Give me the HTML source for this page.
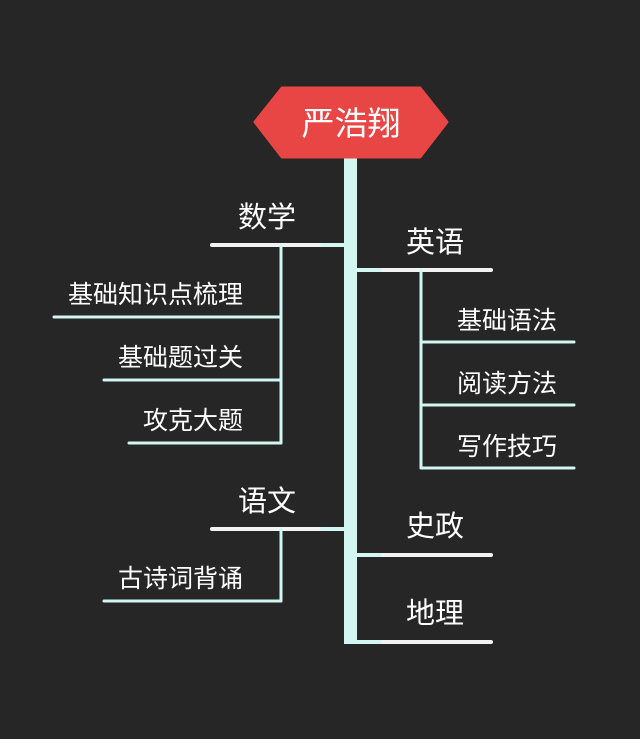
<!DOCTYPE html>
<html><head><meta charset="utf-8"><style>
html,body{margin:0;padding:0;background:#262626;}
svg{display:block}
text{font-family:"Liberation Sans","Noto Sans CJK SC",sans-serif;fill:#fff;}
</style></head><body>
<svg width="640" height="739" viewBox="0 0 640 739" xmlns="http://www.w3.org/2000/svg">
<rect width="640" height="739" fill="#262626"/>
<g stroke-linecap="round">
<rect x="344" y="156" width="13" height="488" fill="#d2f7f2"/>
<line x1="212" y1="245" x2="345" y2="245" stroke="#f2f2f2" stroke-width="4"/>
<line x1="322" y1="245" x2="345" y2="245" stroke="#d2f7f2" stroke-width="4"/>
<line x1="281" y1="245" x2="281" y2="443" stroke="#d2f7f2" stroke-width="3"/>
<line x1="54" y1="317" x2="281" y2="317" stroke="#d2f7f2" stroke-width="3"/>
<line x1="104" y1="380" x2="281" y2="380" stroke="#d2f7f2" stroke-width="3"/>
<line x1="129" y1="443" x2="281" y2="443" stroke="#d2f7f2" stroke-width="3"/>
<line x1="212" y1="529" x2="345" y2="529" stroke="#f2f2f2" stroke-width="4"/>
<line x1="322" y1="529" x2="345" y2="529" stroke="#d2f7f2" stroke-width="4"/>
<line x1="281" y1="529" x2="281" y2="601" stroke="#d2f7f2" stroke-width="3"/>
<line x1="104" y1="601" x2="281" y2="601" stroke="#d2f7f2" stroke-width="3"/>
<line x1="356" y1="270" x2="491" y2="270" stroke="#f2f2f2" stroke-width="4"/>
<line x1="356" y1="270" x2="380" y2="270" stroke="#d2f7f2" stroke-width="4"/>
<line x1="421" y1="270" x2="421" y2="468" stroke="#d2f7f2" stroke-width="3"/>
<line x1="421" y1="342" x2="574" y2="342" stroke="#d2f7f2" stroke-width="3"/>
<line x1="421" y1="405" x2="574" y2="405" stroke="#d2f7f2" stroke-width="3"/>
<line x1="421" y1="468" x2="574" y2="468" stroke="#d2f7f2" stroke-width="3"/>
<line x1="356" y1="555" x2="491" y2="555" stroke="#f2f2f2" stroke-width="4"/>
<line x1="356" y1="555" x2="380" y2="555" stroke="#d2f7f2" stroke-width="4"/>
<line x1="356" y1="642" x2="491" y2="642" stroke="#f2f2f2" stroke-width="4"/>
<line x1="356" y1="642" x2="380" y2="642" stroke="#d2f7f2" stroke-width="4"/>
</g>
<path d="M282 88 L420 88 L447 122 L420 157 L282 157 L255 122 Z" fill="#e84545" stroke="#e84545" stroke-width="3" stroke-linejoin="round"/>
<text x="351" y="135" font-size="33" text-anchor="middle">严浩翔</text>
<text x="267" y="227" font-size="29" text-anchor="middle">数学</text>
<text x="435" y="252" font-size="29" text-anchor="middle">英语</text>
<text x="267" y="511" font-size="29" text-anchor="middle">语文</text>
<text x="435" y="536" font-size="29" text-anchor="middle">史政</text>
<text x="435" y="623" font-size="29" text-anchor="middle">地理</text>
<g font-size="25">
<text x="243" y="303" text-anchor="end">基础知识点梳理</text>
<text x="243" y="366" text-anchor="end">基础题过关</text>
<text x="243" y="429" text-anchor="end">攻克大题</text>
<text x="243" y="587" text-anchor="end">古诗词背诵</text>
<text x="457" y="329">基础语法</text>
<text x="457" y="392">阅读方法</text>
<text x="457" y="455">写作技巧</text>
</g>
</svg>
</body></html>
